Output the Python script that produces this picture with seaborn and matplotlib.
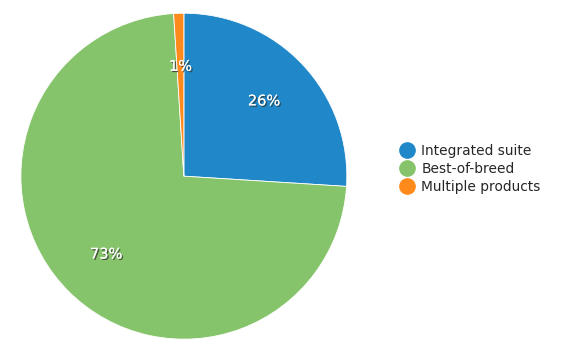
import matplotlib
matplotlib.use("Agg")
import matplotlib.pyplot as plt
import matplotlib.patheffects as pe
from matplotlib.lines import Line2D
import seaborn as sns

sns.set_theme(style="white")
plt.rcParams['font.family'] = ['DejaVu Sans']

# data
labels = ["Integrated suite", "Best-of-breed", "Multiple products"]
shares = [26, 73, 1]
colors = ["#2088C8", "#86C46B", "#FF8A1C"]

fig = plt.figure(figsize=(5.8, 3.57), dpi=100)
ax = fig.add_axes([0.036, 0.050, 0.562, 0.913])

wedges, texts, autotexts = ax.pie(
    shares, colors=colors, startangle=90, counterclock=False,
    autopct=lambda p: f"{p:.0f}%", pctdistance=0.675,
    wedgeprops=dict(edgecolor="white", linewidth=0.6),
    textprops=dict(color="white", fontsize=10.5),
)
for t in autotexts:
    t.set_path_effects([pe.withSimplePatchShadow(offset=(1, -1), shadow_rgbFace="#333333", alpha=0.8), pe.Normal()])
ax.set_xlim(-1.0, 1.0)
ax.set_ylim(-1.0, 1.0)
ax.set_aspect("equal")

handles = [Line2D([0], [0], marker="o", linestyle="", markersize=11,
                  markerfacecolor=c, markeredgecolor=c) for c in colors]
fig.legend(handles, labels, loc="center left", bbox_to_anchor=(0.68, 0.527),
           frameon=False, fontsize=9.9, handletextpad=0.55, labelspacing=0.3,
           handlelength=1.0, borderaxespad=0)

fig.savefig("out.png", dpi=100)
